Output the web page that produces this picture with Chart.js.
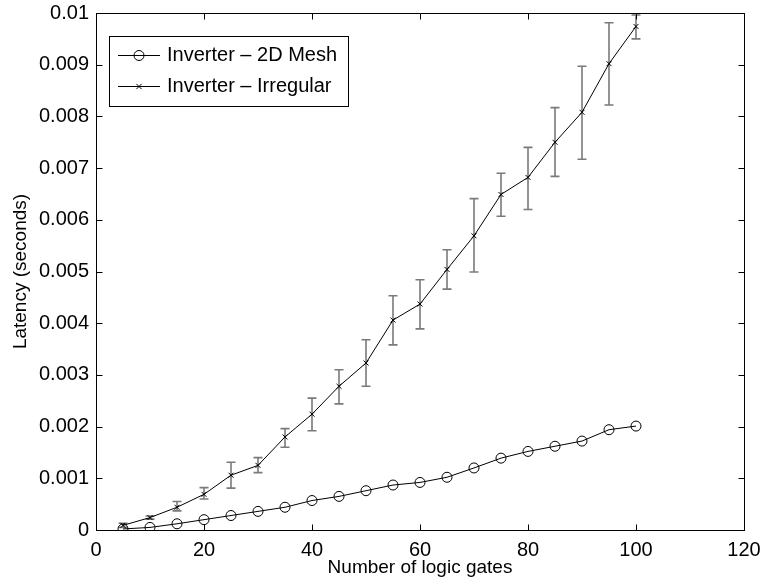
<!DOCTYPE html>
<html>
<head>
<meta charset="utf-8">
<script src="https://cdn.jsdelivr.net/npm/chart.js@4/dist/chart.umd.min.js"></script>
<style>
  html, body { margin: 0; padding: 0; background: #fff; }
  #wrap { width: 766px; height: 584px; }
</style>
</head>
<body>
<div id="wrap"><canvas id="c" width="766" height="584"></canvas></div>
<script>
// ---- data ----
const gateCounts = [5, 10, 15, 20, 25, 30, 35, 40, 45, 50, 55, 60, 65, 70, 75, 80, 85, 90, 95, 100];
const meshLatency = [0.00002, 0.00005, 0.00012, 0.0002, 0.00028, 0.00036, 0.00044, 0.00057, 0.00065, 0.00076,
                     0.00087, 0.00092, 0.00102, 0.0012, 0.00139, 0.00152, 0.00162, 0.00172, 0.00194, 0.00201];
const irregularLatency = [0.00009, 0.00024, 0.00044, 0.00069, 0.00106, 0.00125, 0.0018, 0.00224, 0.00278, 0.00323,
                          0.00406, 0.00437, 0.00504, 0.00569, 0.00649, 0.00682, 0.0075, 0.00808, 0.00902, 0.00974];
const irregularLow = [0.00005, 0.00021, 0.00037, 0.0006, 0.00081, 0.00111, 0.0016, 0.00192, 0.00244, 0.00278,
                      0.00358, 0.00389, 0.00466, 0.00499, 0.00607, 0.0062, 0.00684, 0.00717, 0.00822, 0.0095];
const irregularHigh = [0.00013, 0.00027, 0.00055, 0.00082, 0.00131, 0.0014, 0.00196, 0.00255, 0.0031, 0.00368,
                       0.00453, 0.00484, 0.00542, 0.00641, 0.0069, 0.0074, 0.00817, 0.00897, 0.00981, 0.00996];
const xTickLabels = ['0', '20', '40', '60', '80', '100', '120'];
const yTickLabels = ['0', '0.001', '0.002', '0.003', '0.004', '0.005', '0.006', '0.007', '0.008', '0.009', '0.01'];
const seriesNames = ['Inverter \u2013 2D Mesh', 'Inverter \u2013 Irregular'];
const xTitle = 'Number of logic gates';
const yTitle = 'Latency (seconds)';

const FONT = 'Liberation Sans, Arial, Helvetica, sans-serif';

const toPoints = (xs, ys) => xs.map((x, i) => ({ x: x, y: ys[i] }));

// ---- plugin: frame, inward ticks, error bars, legend ----
const framePlugin = {
  id: 'frame',
  beforeDatasetsDraw(chart) {
    const ctx = chart.ctx;
    const xs = chart.scales.x, ys = chart.scales.y;
    ctx.save();
    ctx.strokeStyle = '#7a7a7a';
    ctx.lineWidth = 1.6;
    const cap = 4.5;
    gateCounts.forEach((g, i) => {
      const px = xs.getPixelForValue(g);
      const lo = ys.getPixelForValue(irregularLow[i]);
      const hi = ys.getPixelForValue(irregularHigh[i]);
      ctx.beginPath();
      ctx.moveTo(px, lo); ctx.lineTo(px, hi);
      ctx.moveTo(px - cap, lo); ctx.lineTo(px + cap, lo);
      ctx.moveTo(px - cap, hi); ctx.lineTo(px + cap, hi);
      ctx.stroke();
    });
    ctx.restore();
  },
  afterDraw(chart) {
    const ctx = chart.ctx;
    const a = chart.chartArea;
    const xs = chart.scales.x, ys = chart.scales.y;
    const L = Math.round(a.left) + 0.5, R = Math.round(a.right) + 0.5;
    const T = Math.round(a.top) + 0.5, B = Math.round(a.bottom) + 0.5;
    ctx.save();
    ctx.strokeStyle = '#000';
    ctx.lineWidth = 1;
    ctx.beginPath();
    ctx.rect(L, T, R - L, B - T);
    ctx.stroke();
    const tl = 6;
    ctx.beginPath();
    xs.ticks.forEach(t => {
      const px = Math.round(xs.getPixelForValue(t.value)) + 0.5;
      ctx.moveTo(px, B); ctx.lineTo(px, B - tl);
      ctx.moveTo(px, T); ctx.lineTo(px, T + tl);
    });
    ys.ticks.forEach(t => {
      const py = Math.round(ys.getPixelForValue(t.value)) + 0.5;
      ctx.moveTo(L, py); ctx.lineTo(L + tl, py);
      ctx.moveTo(R, py); ctx.lineTo(R - tl, py);
    });
    ctx.stroke();

    // legend
    const bx = 109.5, by = 36.5, bw = 239, bh = 70;
    ctx.fillStyle = '#fff';
    ctx.fillRect(bx, by, bw, bh);
    ctx.strokeRect(bx, by, bw, bh);
    const rows = [55, 86];
    ctx.font = '20px ' + FONT;
    ctx.textBaseline = 'middle';
    ctx.textAlign = 'left';
    chart.data.datasets.forEach((ds, i) => {
      const y = rows[i] + 0.5;
      ctx.strokeStyle = '#000';
      ctx.lineWidth = 1;
      ctx.beginPath();
      ctx.moveTo(118, y); ctx.lineTo(160, y);
      ctx.stroke();
      const cx = 139;
      ctx.beginPath();
      if (ds.pointStyle === 'circle') {
        ctx.arc(cx, y, ds.pointRadius, 0, Math.PI * 2);
      } else {
        const r = ds.pointRadius * 0.75;
        ctx.moveTo(cx - r, y - r); ctx.lineTo(cx + r, y + r);
        ctx.moveTo(cx - r, y + r); ctx.lineTo(cx + r, y - r);
      }
      ctx.stroke();
      ctx.fillStyle = '#000';
      ctx.fillText(ds.label, 167, y);
    });
    ctx.restore();
  }
};

new Chart(document.getElementById('c'), {
  type: 'scatter',
  data: {
    datasets: [
      {
        label: seriesNames[0],
        data: toPoints(gateCounts, meshLatency),
        showLine: true,
        borderColor: '#000',
        borderWidth: 1,
        pointStyle: 'circle',
        pointRadius: 5,
        pointBorderColor: '#000',
        pointBackgroundColor: 'rgba(0,0,0,0)',
        pointBorderWidth: 1
      },
      {
        label: seriesNames[1],
        data: toPoints(gateCounts, irregularLatency),
        showLine: true,
        borderColor: '#000',
        borderWidth: 1,
        pointStyle: 'crossRot',
        pointRadius: 3.5,
        pointBorderColor: '#000',
        pointBorderWidth: 1
      }
    ]
  },
  options: {
    responsive: false,
    animation: false,
    devicePixelRatio: 1,
    layout: { padding: { top: 13, right: 22, left: 0, bottom: 0 } },
    plugins: { legend: { display: false }, tooltip: { enabled: false } },
    scales: {
      x: {
        type: 'linear',
        min: 0, max: 120,
        afterFit: s => { s.height = 54; s.paddingLeft = 0; s.paddingRight = 0; },
        ticks: {
          stepSize: 20,
          padding: 8,
          color: '#000',
          font: { family: FONT, size: 20 },
          maxRotation: 0,
          callback: (v, i) => xTickLabels[i]
        },
        grid: { display: true, drawOnChartArea: false, drawTicks: false },
        border: { display: true, color: '#000', width: 1 },
        title: {
          display: true, text: xTitle, color: '#000',
          font: { family: FONT, size: 19 },
          padding: { top: 0, bottom: 5 }
        }
      },
      y: {
        type: 'linear',
        min: 0, max: 0.01,
        afterFit: s => { s.width = 96; s.paddingTop = 0; s.paddingBottom = 0; },
        ticks: {
          stepSize: 0.001,
          padding: 7,
          color: '#000',
          font: { family: FONT, size: 20 },
          callback: (v, i) => yTickLabels[i]
        },
        grid: { display: true, drawOnChartArea: false, drawTicks: false },
        border: { display: true, color: '#000', width: 1 },
        title: {
          display: true, text: yTitle, color: '#000',
          font: { family: FONT, size: 19 },
          padding: { top: 9, bottom: 0 }
        }
      }
    }
  },
  plugins: [framePlugin]
});
</script>
</body>
</html>
